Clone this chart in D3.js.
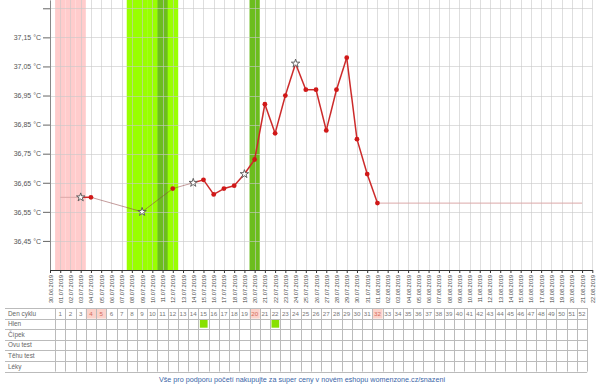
<!DOCTYPE html>
<html><head><meta charset="utf-8">
<script src="https://cdn.jsdelivr.net/npm/d3@7"></script>
<style>body{margin:0;background:#fff}svg{display:block;font-family:Arial,"Liberation Sans",sans-serif}</style>
</head><body><svg id="c" width="600" height="386"></svg>
<script>
const dates = ["30.06.2019","01.07.2019","02.07.2019","03.07.2019","04.07.2019","05.07.2019","06.07.2019","07.07.2019","08.07.2019","09.07.2019","10.07.2019","11.07.2019","12.07.2019","13.07.2019","14.07.2019","15.07.2019","16.07.2019","17.07.2019","18.07.2019","19.07.2019","20.07.2019","21.07.2019","22.07.2019","23.07.2019","24.07.2019","25.07.2019","26.07.2019","27.07.2019","28.07.2019","29.07.2019","30.07.2019","31.07.2019","01.08.2019","02.08.2019","03.08.2019","04.08.2019","05.08.2019","06.08.2019","07.08.2019","08.08.2019","09.08.2019","10.08.2019","11.08.2019","12.08.2019","13.08.2019","14.08.2019","15.08.2019","16.08.2019","17.08.2019","18.08.2019","19.08.2019","20.08.2019","21.08.2019","22.08.2019"];
const cycleDays = [1,2,3,4,5,6,7,8,9,10,11,12,13,14,15,16,17,18,19,20,21,22,23,24,25,26,27,28,29,30,31,32,33,34,35,36,37,38,39,40,41,42,43,44,45,46,47,48,49,50,51,52];
const tempDays = [3,4,9,12,14,15,16,17,18,19,20,21,22,23,24,25,26,27,28,29,30,31,32];
const temps = [36.60,36.60,36.55,36.63,36.65,36.66,36.61,36.63,36.64,36.68,36.73,36.92,36.82,36.95,37.06,36.97,36.97,36.83,36.97,37.08,36.80,36.68,36.58];
const starDays = [3,9,14,19,24];
const mensDays = [1,2,3];
const fertileDays = [8,9,10,11,12];
const ovulationDays = [11,20];
const yTicks = [36.45,36.55,36.65,36.75,36.85,36.95,37.05,37.15,37.25];
const yLabels = ["36,45 °C","36,55 °C","36,65 °C","36,75 °C","36,85 °C","36,95 °C","37,05 °C","37,15 °C",""];
const rowLabels = ["Den cyklu","Hlen","Čípek","Ovu test","Těhu test","Léky"];
const highlightDays = [4,5,20,32];
const hlenDays = [15,22];
const footer = "Vše pro podporu početí nakupujte za super ceny v novém eshopu womenzone.cz/snazeni";

const svg = d3.select("#c");
const x = d3.scalePoint().domain(dates).range([50, 592.3]);
const step = x.step();
const xd = d => x(dates[d]);
const y = d3.scaleLinear().domain([36.35, 37.2785]).range([270, 0]);
const plotTop = 0, plotBottom = 270, left = 50, right = 592.3;

// bands
const bands = svg.append("g");
bands.selectAll("rect.m").data(mensDays).join("rect")
  .attr("x", d => xd(d) - step/2).attr("width", step).attr("y", plotTop).attr("height", plotBottom - plotTop)
  .attr("fill", "#ffcccc");
bands.selectAll("rect.f").data(fertileDays).join("rect")
  .attr("x", d => xd(d) - step/2).attr("width", step + 0.3).attr("y", plotTop).attr("height", plotBottom - plotTop)
  .attr("fill", "#99ff00");
bands.selectAll("rect.o").data(ovulationDays).join("rect")
  .attr("x", d => xd(d) - step/2).attr("width", step).attr("y", plotTop).attr("height", plotBottom - plotTop)
  .attr("fill", "#6cbd1e");

// grid
const grid = svg.append("g").attr("stroke", "#c8c8c8").attr("stroke-opacity", 0.6).attr("stroke-width", 1);
grid.selectAll("line.v").data(dates).join("line")
  .attr("x1", d => Math.round(x(d)) + 0.5).attr("x2", d => Math.round(x(d)) + 0.5)
  .attr("y1", plotTop).attr("y2", plotBottom);
grid.selectAll("line.h").data(yTicks).join("line")
  .attr("x1", left).attr("x2", right)
  .attr("y1", d => Math.round(y(d)) + 0.5).attr("y2", d => Math.round(y(d)) + 0.5);

// y axis
const yAxis = svg.append("g").attr("transform", `translate(${left},0)`)
  .call(d3.axisLeft(y).tickValues(yTicks).tickSize(7).tickSizeOuter(0).tickPadding(2)
    .tickFormat((d, i) => yLabels[i]));
yAxis.select(".domain").attr("stroke", "#888");
yAxis.selectAll(".tick line").attr("stroke", "#666");
yAxis.selectAll("text").attr("font-size", 7).attr("fill", "#555").attr("font-family", "Arial, 'Liberation Sans', sans-serif");

// x axis
const xAxis = svg.append("g").attr("transform", `translate(0,${plotBottom})`)
  .call(d3.axisBottom(x).tickSize(3).tickSizeOuter(0).tickPadding(0));
xAxis.select(".domain").attr("stroke", "#333");
xAxis.selectAll(".tick line").attr("stroke", "#333");
xAxis.selectAll("text").attr("font-size", 5.6).attr("fill", "#444")
  .attr("font-family", "Arial, 'Liberation Sans', sans-serif")
  .attr("text-anchor", "end").attr("dy", 0).attr("y", 0)
  .attr("transform", "translate(2,5) rotate(-90)");

// temperature lines
const first = tempDays[0], last = tempDays[tempDays.length - 1];
const lines = svg.append("g").attr("fill", "none");
lines.append("line").attr("x1", xd(cycleDays[0])).attr("x2", xd(first))
  .attr("y1", y(temps[0])).attr("y2", y(temps[0])).attr("stroke", "#dba8a8").attr("stroke-width", 1);
lines.append("line").attr("x1", xd(last)).attr("x2", xd(cycleDays[cycleDays.length - 1]))
  .attr("y1", y(temps[temps.length - 1])).attr("y2", y(temps[temps.length - 1])).attr("stroke", "#dba8a8").attr("stroke-width", 1);
const segs = d3.pairs(tempDays.map((d, i) => ({d, t: temps[i]})));
lines.selectAll("line.s").data(segs).join("line")
  .attr("x1", p => xd(p[0].d)).attr("y1", p => y(p[0].t))
  .attr("x2", p => xd(p[1].d)).attr("y2", p => y(p[1].t))
  .attr("stroke", p => p[1].d - p[0].d === 1 ? "#cc2a2a" : "#8a3a3a")
  .attr("stroke-opacity", p => p[1].d - p[0].d === 1 ? 1 : 0.5)
  .attr("stroke-width", p => p[1].d - p[0].d === 1 ? 1.5 : 1);

const pts = tempDays.map((d, i) => ({d, t: temps[i]}));
svg.append("g").selectAll("circle").data(pts.filter(p => !starDays.includes(p.d))).join("circle")
  .attr("cx", p => xd(p.d)).attr("cy", p => y(p.t)).attr("r", 2.4).attr("fill", "#d01818");
svg.append("g").selectAll("path").data(pts.filter(p => starDays.includes(p.d))).join("path")
  .attr("transform", p => `translate(${xd(p.d)},${y(p.t)})`)
  .attr("d", d3.symbol(d3.symbolStar, 22)).attr("fill", "#fff").attr("stroke", "#555").attr("stroke-width", 0.9);

// table
const tTop = 308, rowH = 10.6, tLeft = 5;
const tRight = xd(52) + step/2;
const tbl = svg.append("g");
tbl.selectAll("rect.hl").data(highlightDays).join("rect")
  .attr("x", d => xd(d) - step/2).attr("y", tTop).attr("width", step).attr("height", rowH).attr("fill", "#fcd3cb");
tbl.selectAll("rect.hlen").data(hlenDays).join("rect")
  .attr("x", d => xd(d) - step/2 + 1.5).attr("y", tTop + rowH + 1).attr("width", step - 2.5).attr("height", rowH - 2.5).attr("fill", "#88e000");
tbl.selectAll("line.r").data(d3.range(rowLabels.length + 1)).join("line")
  .attr("x1", tLeft).attr("x2", tRight)
  .attr("y1", i => Math.round(tTop + i * rowH) + 0.5).attr("y2", i => Math.round(tTop + i * rowH) + 0.5)
  .attr("stroke", "#bbb");
tbl.selectAll("line.c").data([0].concat(cycleDays)).join("line")
  .attr("x1", d => Math.round(xd(d) + step/2) + 0.5).attr("x2", d => Math.round(xd(d) + step/2) + 0.5)
  .attr("y1", tTop).attr("y2", tTop + rowLabels.length * rowH)
  .attr("stroke", "#bbb");
tbl.selectAll("text.l").data(rowLabels).join("text")
  .attr("x", 8).attr("y", (d, i) => tTop + i * rowH + rowH/2 + 2.3)
  .attr("font-size", 6.4).attr("fill", "#666").text(d => d);
tbl.selectAll("text.n").data(cycleDays).join("text")
  .attr("x", d => xd(d)).attr("y", tTop + rowH/2 + 2.2).attr("text-anchor", "middle")
  .attr("font-size", 6.2).attr("fill", d => highlightDays.includes(d) ? "#d46a5a" : "#777").text(d => d);

svg.append("text").attr("x", 302).attr("y", 382).attr("text-anchor", "middle")
  .attr("font-size", 7.2).attr("fill", "#3a66a8").text(footer);
</script></body></html>
